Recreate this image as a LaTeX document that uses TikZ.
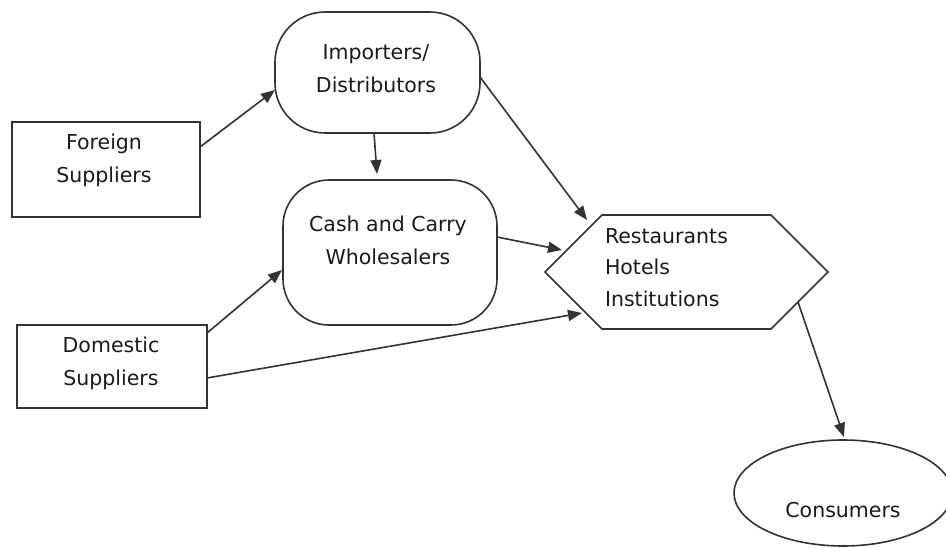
\documentclass[tikz,border=0pt]{standalone}
\usepackage{fontspec}
\setmainfont{DejaVu Sans}
\usetikzlibrary{arrows.meta,shapes.geometric,shapes.symbols}
\definecolor{linec}{HTML}{333333}
\definecolor{textc}{HTML}{1A1A1A}
\tikzset{
  shapebox/.style={draw=linec, line width=1.6pt, inner sep=0pt, outer sep=0pt},
  plainbox/.style={shapebox, rectangle},
  roundbox/.style={shapebox, rectangle, rounded corners=#1},
  hexbox/.style={shapebox, signal, signal to=west and east, signal pointer angle=90},
  ovalbox/.style={shapebox, ellipse},
  lbl/.style={inner sep=0pt, outer sep=0pt, text=textc, font=\fontsize{20.5}{33}\selectfont, align=center},
  conn/.style={draw=linec, line width=1.6pt, -{Triangle[length=14pt,width=11pt]}}
}
\begin{document}
\begin{tikzpicture}[x=1pt,y=-1pt]
\useasboundingbox (0,0) rectangle (946,548);
\fill[white] (0,0) rectangle (946,548);
\begin{scope}
\clip (0,0) rectangle (946,548);
% shapes
\node[roundbox=50pt, minimum width=205pt, minimum height=121pt] (imp) at (377.5,72.5) {};
\node[plainbox, minimum width=188pt, minimum height=95pt] (fs) at (106,169.5) {};
\node[roundbox=46pt, minimum width=214pt, minimum height=145pt] (cash) at (390,252.5) {};
\node[plainbox, minimum width=190pt, minimum height=83pt] (dom) at (112,366.5) {};
\node[hexbox, minimum width=283pt, minimum height=114pt] (hex) at (686.5,272) {};
\node[ovalbox, minimum width=218pt, minimum height=106pt] (cons) at (843,493) {};
% labels
\node[lbl] (impt) at (376,68.5) {Importers/\\Distributors};
\node[lbl] (fst) at (104,160.5) {Foreign\\Suppliers};
\node[lbl] (casht) at (388,240) {Cash and Carry\\Wholesalers};
\node[lbl] (domt) at (111,363) {Domestic\\Suppliers};
\node[lbl, align=left, anchor=west, font=\fontsize{20.5}{31.5}\selectfont] (hext) at (605,267.5) {Restaurants\\Hotels\\Institutions};
\node[lbl] (const) at (843,510) {Consumers};
% connectors
\draw[conn] ([yshift=-25pt]fs.north east) -- ([yshift=-17.5pt]imp.west);
\draw[conn] ([xshift=-3.5pt]imp.south) -- ([xshift=-13pt,yshift=6pt]cash.north);
\draw[conn] ([yshift=-4.5pt]imp.east) -- ([xshift=-99.5pt,yshift=52pt]hex.center);
\draw[conn] ([yshift=15.5pt]cash.east) -- ([xshift=-124.5pt,yshift=22pt]hex.center);
\draw[conn] ([yshift=-8pt]dom.north east) -- ([xshift=-1pt,yshift=-17.5pt]cash.west);
\draw[conn] ([yshift=-11.5pt]dom.east) -- ([xshift=-104.5pt,yshift=-41pt]hex.center);
\draw[conn] ([xshift=111.5pt,yshift=-30pt]hex.center) -- ([xshift=1pt,yshift=3pt]cons.north);
\end{scope}
\end{tikzpicture}
\end{document}
